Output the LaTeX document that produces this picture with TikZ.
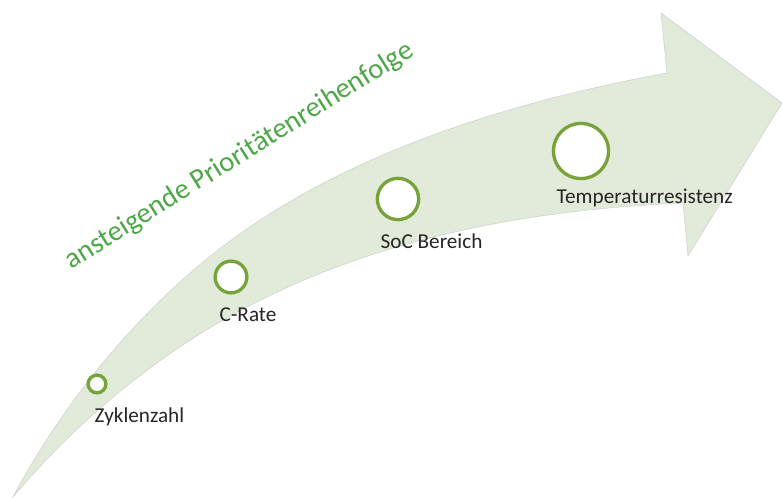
\documentclass[tikz,border=0pt]{standalone}
\usepackage{fontspec}
\setmainfont{Carlito}
\usepackage{xcolor}
\usepackage{tikz}
\usetikzlibrary{positioning}
\definecolor{arrowgreen}{HTML}{E2EBD9}
\definecolor{ringgreen}{HTML}{77A33B}
\definecolor{textgreen}{HTML}{4DA747}
\tikzset{
stage/.style={circle, draw=ringgreen, line width=2.5pt, fill=white, inner sep=0pt}, % the rings on the arrow
stagetext/.style={anchor=base west, text=black!85, font=\fontsize{15.9}{18}\selectfont}, % the names below the rings
}

\begin{document}
\begin{tikzpicture}[x=0.75pt, y=-0.75pt]
\useasboundingbox (0,0) rectangle (782,498);
% the bent arrow
\fill[arrowgreen, draw=black!22, line width=0.3pt]
  (13,497) .. controls (70,390) and (150,300) .. (230,241)
  .. controls (360,145) and (530,98) .. (667,73)
  -- (661,13) -- (782,103) -- (688,256) -- (683,203)
  .. controls (570,208) and (405,226) .. (255,303)
  .. controls (185,338) and (95,400) .. (13,497)
  -- cycle;
% rings
\node[stage, minimum size=13.3pt] (zyklen) at (97,384) {};
\node[stage, minimum size=23.8pt] (crate) at (231,277) {};
\node[stage, minimum size=31pt] (soc) at (398,199) {};
\node[stage, minimum size=41.4pt] (temp) at (581,151) {};
% names
\node[stagetext] (zyklenname) at (90,423) {Zyklenzahl};
\node[stagetext] (cratename) at (215,322) {C-Rate};
\node[stagetext] (socname) at (376,249) {SoC Bereich};
\node[stagetext] (tempname) at (552,204) {Temperaturresistenz};
% heading along the arrow
\node[anchor=base west, rotate=32, text=textgreen, font=\fontsize{21.5}{24}\selectfont] (prio) at (68,272) {ansteigende Prioritätenreihenfolge};
\end{tikzpicture}
\end{document}
